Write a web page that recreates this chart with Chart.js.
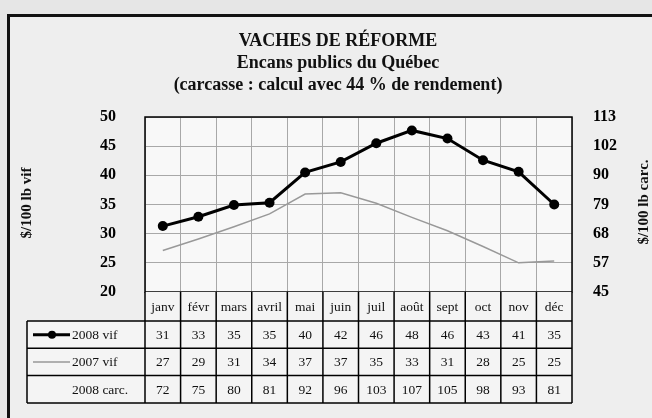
<!DOCTYPE html>
<html>
<head>
<meta charset="utf-8">
<script src="https://cdn.jsdelivr.net/npm/chart.js@4"></script>
<style>
  html, body { margin: 0; padding: 0; background: #e6e6e6; }
  canvas { display: block; }
</style>
</head>
<body>
<canvas id="vachesChart" width="652" height="418"></canvas>
<script>
// données
const months = ['janv', 'févr', 'mars', 'avril', 'mai', 'juin', 'juil', 'août', 'sept', 'oct', 'nov', 'déc'];
const vif2008 = [31.3, 32.9, 34.9, 35.3, 40.5, 42.3, 45.5, 47.7, 46.3, 42.6, 40.6, 35.0];
const vif2007 = [27.1, 29.1, 31.2, 33.4, 36.8, 37.0, 35.2, 32.8, 30.5, 27.8, 25.0, 25.3];
// valeurs affichées dans le tableau
const table2008vif = [31, 33, 35, 35, 40, 42, 46, 48, 46, 43, 41, 35];
const table2007vif = [27, 29, 31, 34, 37, 37, 35, 33, 31, 28, 25, 25];
const table2008carc = [72, 75, 80, 81, 92, 96, 103, 107, 105, 98, 93, 81];
const carcTicks = ['45', '57', '68', '79', '90', '102', '113'];
const titleLines = ['VACHES DE RÉFORME', 'Encans publics du Québec', '(carcasse : calcul avec 44 % de rendement)'];

const SERIF = '"Liberation Serif", "Times New Roman", serif';

const decorPlugin = {
  id: 'decor',
  beforeDraw(chart) {
    const ctx = chart.ctx;
    const a = chart.chartArea;
    ctx.save();
    ctx.fillStyle = '#e6e6e6';
    ctx.fillRect(0, 0, chart.width, chart.height);
    ctx.fillStyle = '#eeeeee';
    ctx.fillRect(8, 15, chart.width - 8, chart.height - 15);
    ctx.fillStyle = '#f8f8f8';
    ctx.fillRect(a.left, a.top, a.right - a.left, a.bottom - a.top);
    ctx.restore();
  },
  afterDraw(chart) {
    const ctx = chart.ctx;
    const a = chart.chartArea;
    const x = chart.scales.x;
    const half = (x.getPixelForValue(1) - x.getPixelForValue(0)) / 2;
    ctx.save();

    // bordure de la zone de traçage
    ctx.strokeStyle = '#000';
    ctx.lineWidth = 1.5;
    ctx.strokeRect(a.left, a.top, a.right - a.left, a.bottom - a.top);

    // tableau de données
    const catBottom = a.bottom + 29;
    const rowH = 27.3;
    const tableLeft = 27;
    const rows = [
      { label: '2008 vif', values: table2008vif, sample: 'bold' },
      { label: '2007 vif', values: table2007vif, sample: 'thin' },
      { label: '2008 carc.', values: table2008carc, sample: null }
    ];
    const tableBottom = catBottom + rowH * rows.length;
    ctx.fillStyle = '#f4f4f4';
    ctx.fillRect(a.left, a.bottom, a.right - a.left, catBottom - a.bottom);
    ctx.fillRect(tableLeft, catBottom, a.right - tableLeft, tableBottom - catBottom);

    ctx.strokeStyle = '#000';
    ctx.lineWidth = 1.5;
    ctx.beginPath();
    ctx.moveTo(tableLeft, catBottom); ctx.lineTo(a.right, catBottom);
    for (let r = 1; r <= rows.length; r++) {
      ctx.moveTo(tableLeft, catBottom + rowH * r); ctx.lineTo(a.right, catBottom + rowH * r);
    }
    ctx.moveTo(tableLeft, catBottom); ctx.lineTo(tableLeft, tableBottom);
    months.forEach((m, i) => {
      const cx = x.getPixelForValue(i);
      ctx.moveTo(cx - half, a.bottom); ctx.lineTo(cx - half, tableBottom);
    });
    ctx.moveTo(a.right, a.bottom); ctx.lineTo(a.right, tableBottom);
    ctx.stroke();

    ctx.fillStyle = '#111';
    ctx.textAlign = 'center';
    ctx.textBaseline = 'middle';
    ctx.font = '13.5px ' + SERIF;
    months.forEach((m, i) => {
      ctx.fillText(m, x.getPixelForValue(i), (a.bottom + catBottom) / 2 + 1);
    });
    rows.forEach((row, r) => {
      const cy = catBottom + rowH * (r + 0.5) + 1;
      ctx.textAlign = 'center';
      row.values.forEach((v, i) => ctx.fillText(String(v), x.getPixelForValue(i), cy));
      ctx.textAlign = 'left';
      ctx.fillText(row.label, 72, cy);
      if (row.sample === 'bold') {
        ctx.strokeStyle = '#000';
        ctx.lineWidth = 3;
        ctx.beginPath(); ctx.moveTo(33, cy - 1); ctx.lineTo(70, cy - 1); ctx.stroke();
        ctx.beginPath(); ctx.arc(52, cy - 1, 4, 0, Math.PI * 2); ctx.fillStyle = '#000'; ctx.fill();
        ctx.fillStyle = '#111';
      } else if (row.sample === 'thin') {
        ctx.strokeStyle = '#999';
        ctx.lineWidth = 1.5;
        ctx.beginPath(); ctx.moveTo(33, cy - 1); ctx.lineTo(70, cy - 1); ctx.stroke();
      }
    });

    // titres
    ctx.fillStyle = '#111';
    ctx.textAlign = 'center';
    ctx.textBaseline = 'middle';
    ctx.font = 'bold 18px ' + SERIF;
    titleLines.forEach((t, i) => ctx.fillText(t, 338, 41 + i * 22));

    // titres des axes
    ctx.font = 'bold 15px ' + SERIF;
    ctx.save();
    ctx.translate(27, 203);
    ctx.rotate(-Math.PI / 2);
    ctx.fillText('$/100 lb vif', 0, 0);
    ctx.restore();
    ctx.save();
    ctx.translate(644, 202);
    ctx.rotate(-Math.PI / 2);
    ctx.fillText('$/100 lb carc.', 0, 0);
    ctx.restore();

    // cadre
    ctx.fillStyle = '#111';
    ctx.fillRect(7, 14, chart.width - 7, 3);
    ctx.fillRect(7, 14, 3, chart.height - 14);
    ctx.restore();
  }
};

const ctx = document.getElementById('vachesChart').getContext('2d');
new Chart(ctx, {
  type: 'line',
  data: {
    labels: months,
    datasets: [
      {
        label: '2008 vif',
        data: vif2008,
        borderColor: '#000',
        backgroundColor: '#000',
        borderWidth: 3,
        pointRadius: 5,
        pointBackgroundColor: '#000',
        pointBorderWidth: 0,
        tension: 0,
        yAxisID: 'y',
        order: 0
      },
      {
        label: '2007 vif',
        data: vif2007,
        borderColor: '#999',
        borderWidth: 1.5,
        pointRadius: 0,
        tension: 0,
        yAxisID: 'y',
        order: 1
      }
    ]
  },
  plugins: [decorPlugin],
  options: {
    responsive: false,
    animation: false,
    layout: { padding: { top: 117, bottom: 126, left: 0, right: 0 } },
    plugins: {
      legend: { display: false },
      title: { display: false },
      tooltip: { enabled: false }
    },
    scales: {
      x: {
        offset: true,
        ticks: { display: false },
        grid: { color: '#a8a8a8', lineWidth: 1, offset: true, drawTicks: false },
        border: { display: false },
        afterFit: s => { s.height = 0; }
      },
      y: {
        position: 'left',
        min: 20,
        max: 50,
        ticks: {
          stepSize: 5,
          padding: 29,
          color: '#000',
          font: { family: SERIF, size: 16, weight: 'bold' }
        },
        grid: { color: '#a8a8a8', lineWidth: 1, drawTicks: false },
        border: { display: false },
        afterFit: s => { s.width = 145; }
      },
      y2: {
        position: 'right',
        min: 20,
        max: 50,
        ticks: {
          stepSize: 5,
          padding: 21,
          color: '#000',
          font: { family: SERIF, size: 16, weight: 'bold' },
          callback: (v, i) => carcTicks[i]
        },
        grid: { drawOnChartArea: false, drawTicks: false },
        border: { display: false },
        afterFit: s => { s.width = 80; }
      }
    }
  }
});
</script>
</body>
</html>
